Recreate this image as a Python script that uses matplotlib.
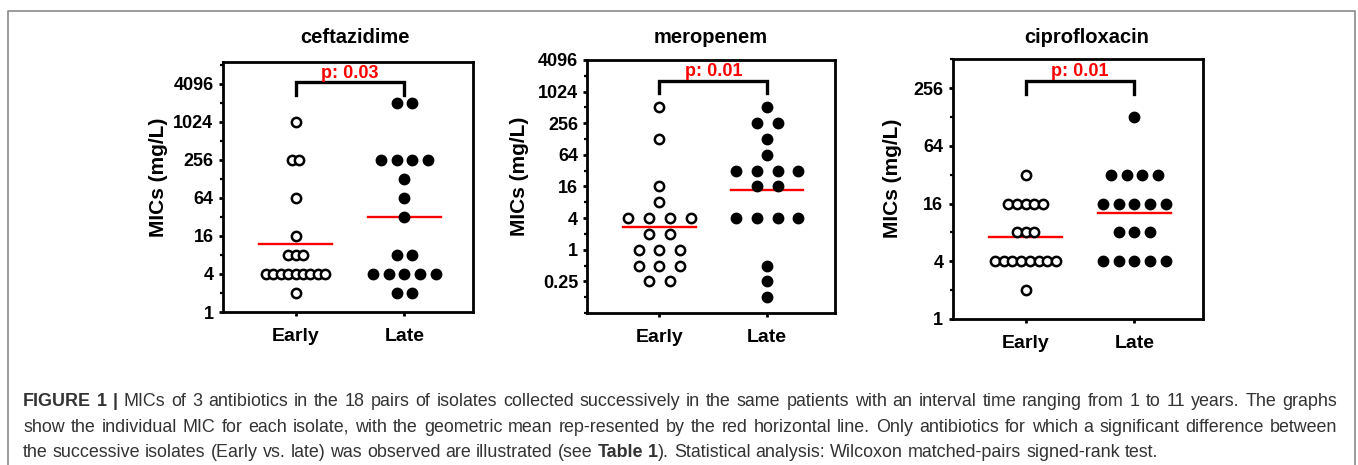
import matplotlib
matplotlib.use("Agg")
import matplotlib.pyplot as plt
import matplotlib.transforms as mtransforms
from matplotlib.lines import Line2D
from matplotlib.ticker import FixedLocator, FixedFormatter, NullFormatter
import numpy as np

plt.rcParams["font.family"] = ["Liberation Sans", "DejaVu Sans"]

# ---- data -----------------------------------------------------------------
groups = ["Early", "Late"]
drugs = ["ceftazidime", "meropenem", "ciprofloxacin"]
p_labels = ["p: 0.03", "p: 0.01", "p: 0.01"]

ceftazidime_early = [1024, 256, 256, 64, 16, 8, 8, 8, 4, 4, 4, 4, 4, 4, 4, 4, 4, 2]
ceftazidime_late = [2048, 2048, 256, 256, 256, 256, 128, 64, 32, 8, 8, 4, 4, 4, 4, 4, 2, 2]
meropenem_early = [512, 128, 16, 8, 4, 4, 4, 4, 2, 2, 1, 1, 1, 0.5, 0.5, 0.5, 0.25, 0.25]
meropenem_late = [512, 256, 256, 128, 64, 32, 32, 32, 32, 16, 16, 4, 4, 4, 4, 0.5, 0.25, 0.125]
cipro_early = [32, 16, 16, 16, 16, 16, 8, 8, 8, 4, 4, 4, 4, 4, 4, 4, 4, 2]
cipro_late = [128, 32, 32, 32, 32, 16, 16, 16, 16, 16, 8, 8, 8, 4, 4, 4, 4, 4]

ceftazidime_ticks = [1, 4, 16, 64, 256, 1024, 4096]
meropenem_ticks = [0.25, 1, 4, 16, 64, 256, 1024, 4096]
cipro_ticks = [1, 4, 16, 64, 256]

caption_lines = [
    [("FIGURE 1 |", "bold"),
     (" MICs of 3 antibiotics in the 18 pairs of isolates collected successively in the same "
      "patients with an interval time ranging from 1 to 11 years. The graphs", "normal")],
    [("show the individual MIC for each isolate, with the geometric mean rep-resented by the red "
      "horizontal line. Only antibiotics for which a significant difference between", "normal")],
    [("the successive isolates (Early vs. late) was observed are illustrated (see ", "normal"),
     ("Table 1", "bold"),
     ("). Statistical analysis: Wilcoxon matched-pairs signed-rank test.", "normal")],
]

panels = [
    (ceftazidime_early, ceftazidime_late, ceftazidime_ticks),
    (meropenem_early, meropenem_late, meropenem_ticks),
    (cipro_early, cipro_late, cipro_ticks),
]

# ---- layout -----------------------------------------------------------------
W, H = 1358, 465
ylims = [(1, 2 ** 13.15), (2 ** -4, 4096), (1, 512)]
positions = [
    [0.164, 0.329, 0.1843, 0.538],
    [0.4325, 0.327, 0.1824, 0.544],
    [0.7015, 0.314, 0.1843, 0.5585],
]
steps = [(0.068, 0.145), (0.193, 0.192), (0.08, 0.144)]
ylabel_x = [-0.258, -0.272, -0.239]
title_dx = [7, 0, 9]


def spread(values, step):
    values = np.asarray(values, dtype=float)
    offsets = np.zeros(len(values))
    for v in np.unique(values):
        idx = np.where(values == v)[0]
        offsets[idx] = (np.arange(len(idx)) - (len(idx) - 1) / 2) * step
    return offsets


def tokenize(runs):
    tokens = []
    pending = False
    for text, weight in runs:
        for k, part in enumerate(text.split(" ")):
            if k > 0:
                pending = True
            if part:
                tokens.append((part, weight, pending and bool(tokens)))
                pending = False
    return tokens


fig = plt.figure(figsize=(W / 100, H / 100), dpi=100)

for i, (early, late, ticks) in enumerate(panels):
    ax = fig.add_axes(positions[i])
    ax.set_yscale("log", base=2)
    ax.set_ylim(*ylims[i])
    ax.set_xlim(-0.67, 1.63)

    for j, vals in enumerate([early, late]):
        xs = j + spread(vals, steps[i][j])
        face = "white" if j == 0 else "black"
        ax.plot(xs, vals, "o", ms=6.7, mew=1.8, mfc=face, mec="black",
                clip_on=False, zorder=4)
        gm = 2 ** np.mean(np.log2(vals))
        ax.plot([j - 0.335, j + 0.335], [gm, gm], color="red", lw=1.7, zorder=3)

    lo, hi = np.log2(ylims[i])
    minors = [2.0 ** e for e in range(int(np.floor(lo)), int(np.ceil(hi)) + 1)
              if 2.0 ** e not in ticks and ylims[i][0] <= 2.0 ** e <= ylims[i][1] * 1.001]
    ax.yaxis.set_major_locator(FixedLocator(ticks))
    ax.yaxis.set_major_formatter(FixedFormatter([f"{t:g}" for t in ticks]))
    ax.yaxis.set_minor_locator(FixedLocator(minors))
    ax.yaxis.set_minor_formatter(NullFormatter())

    ax.set_xticks([0, 1])
    ax.set_xticklabels(groups, fontsize=14, fontweight="bold")
    for lab in ax.get_yticklabels():
        lab.set_fontsize(13)
        lab.set_fontweight("bold")

    for sp in ax.spines.values():
        sp.set_linewidth(2.0)
    ax.tick_params(axis="both", which="major", length=3.2, width=2.0, direction="out")
    ax.tick_params(axis="y", which="major", pad=3.5)
    ax.tick_params(axis="x", which="major", pad=8)
    ax.tick_params(axis="y", which="minor", length=2.5, width=1.6, direction="out")

    ax.text(ylabel_x[i], 0.54, "MICs (mg/L)", rotation=90, ha="center", va="center",
            transform=ax.transAxes, fontsize=15, fontweight="bold")

    pos = ax.get_position()
    fig.text((pos.x0 + pos.x1) / 2 + title_dx[i] / W, 1 - 43 / H, drugs[i],
             ha="center", va="baseline", fontsize=14.5, fontweight="bold")

    trans = mtransforms.blended_transform_factory(ax.transData, ax.transAxes)
    ax.plot([0, 0, 1, 1], [0.868, 0.918, 0.918, 0.868], color="black", lw=2.4,
            transform=trans, clip_on=False, solid_joinstyle="miter")
    ax.text(0.5, 0.935, p_labels[i], transform=trans, ha="center", va="baseline",
            color="red", fontsize=13, fontweight="bold")

# outer frame (open at the bottom)
frame_c = "#8a8a8a"
x0, x1, ytop = 8 / W, 1355 / W, 1 - 11 / H
fig.add_artist(Line2D([x0, x0, x1, x1], [0, ytop, ytop, 0], color=frame_c, lw=1.2))

# caption, laid out word by word so the first two lines are justified
renderer = fig.canvas.get_renderer()
cap_color = "#333333"
cap_left, cap_right = 23, 1337
baselines = [405.7, 431.7, 456.7]


def measure(text, weight, fs):
    t = fig.text(0, 0, text, fontsize=fs, fontweight=weight)
    w = t.get_window_extent(renderer).width
    t.remove()
    return w


def natural_width(tokens, fs):
    sp = measure("x x", "normal", fs) - measure("xx", "normal", fs)
    widths = [measure(tok, wt, fs) for tok, wt, _ in tokens]
    return widths, sp, sum(widths) + sp * sum(1 for *_, s in tokens if s)


fs = 12.3
token_lines = [tokenize(runs) for runs in caption_lines]
widest = max(natural_width(tl, fs)[2] for tl in token_lines[:2])
fs = min(13.4, fs * (cap_right - cap_left) / widest * 0.99)

for li, tokens in enumerate(token_lines):
    widths, sp, total = natural_width(tokens, fs)
    n_sp = sum(1 for *_, s in tokens if s)
    if li < len(token_lines) - 1 and n_sp:
        sp += (cap_right - cap_left - total) / n_sp
    x = cap_left
    for (tok, wt, space), w in zip(tokens, widths):
        if space:
            x += sp
        fig.text(x / W, 1 - baselines[li] / H, tok, fontsize=fs, fontweight=wt,
                 color=cap_color, va="baseline", ha="left")
        x += w

fig.savefig("out.png", dpi=100)
